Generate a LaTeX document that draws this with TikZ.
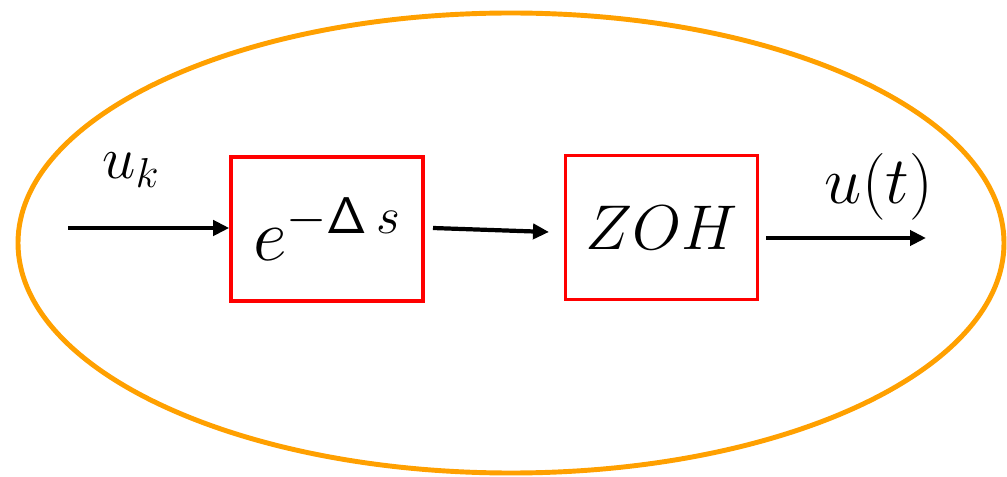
\documentclass[tikz,border=0pt]{standalone}
\usepackage{fix-cm}
\usepackage{amsmath, amssymb}
\usetikzlibrary{arrows.meta}
\definecolor{ringorange}{RGB}{255,160,0}
\definecolor{boxred}{RGB}{255,0,0}
\tikzset{
	blockbox/.style={shape=rectangle, draw=boxred, line width=2pt, minimum width=3.84cm, minimum height=2.88cm, font=\fontsize{36}{40}\selectfont},
	sigline/.style={line width=2.4pt, -{Triangle[length=0.32cm, width=0.3cm]}},
	siglabel/.style={font=\fontsize{34}{38}\selectfont}
}
\begin{document}
\begin{tikzpicture}
	\useasboundingbox (0, 0) rectangle (20.14, 9.52);
	% Paths, nodes and wires:
	\draw[ringorange, line width=2.8pt] (10.22, 4.66) ellipse [x radius=9.86cm, y radius=4.6cm];
	\node[blockbox, font=\fontsize{42}{46}\selectfont] (delay) at (6.54, 4.94) {$e^{-\mathsf{\Delta}\,s}$};
	\node[blockbox] (zoh) at (13.23, 4.97) {$ZOH$};
	\coordinate (in) at (1.36, 4.96);
	\coordinate (mid) at (8.66, 4.96);
	\coordinate (midend) at (10.98, 4.88);
	\coordinate (outstart) at (15.32, 4.76);
	\coordinate (out) at (18.52, 4.76);
	\draw[sigline] (in) -- (in -| delay.west);
	\draw[sigline] (mid) -- (midend);
	\draw[sigline] (outstart) -- (out);
	\node[siglabel] (uk) at (2.62, 6.12) {$u_k$};
	\node[siglabel, font=\fontsize{38}{42}\selectfont] (ut) at (17.58, 5.78) {$u(t)$};
\end{tikzpicture}
\end{document}
